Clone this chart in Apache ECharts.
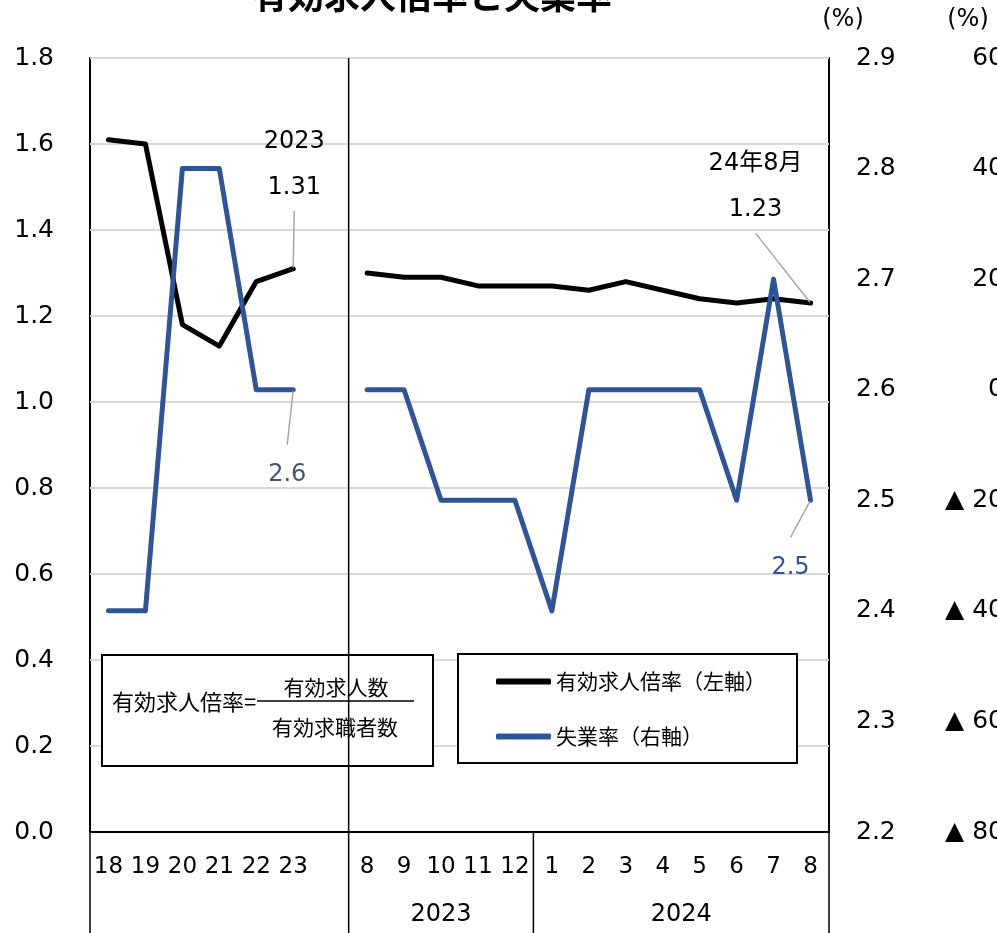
<!DOCTYPE html>
<html>
<head>
<meta charset="utf-8">
<script src="https://cdn.jsdelivr.net/npm/echarts@6/dist/echarts.min.js"></script>
<style>
  html, body { margin: 0; padding: 0; background: #fff; }
  #chart { width: 997px; height: 933px; }
</style>
</head>
<body>
<div id="chart"></div>
<script>
// ---- data ----
const years = ['18', '19', '20', '21', '22', '23'];
const months = ['8', '9', '10', '11', '12', '1', '2', '3', '4', '5', '6', '7', '8'];
const monthGroups = ['2023', '2024'];          // calendar year of the monthly block
const monthGroupStarts = [0, 5];               // index in months where each year starts
const ratioAnnual = [1.61, 1.60, 1.18, 1.13, 1.28, 1.31];
const ratioMonthly = [1.30, 1.29, 1.29, 1.27, 1.27, 1.27, 1.26, 1.28, 1.26, 1.24, 1.23, 1.24, 1.23];
const unempAnnual = [2.4, 2.4, 2.8, 2.8, 2.6, 2.6];
const unempMonthly = [2.6, 2.6, 2.5, 2.5, 2.5, 2.4, 2.6, 2.6, 2.6, 2.6, 2.5, 2.7, 2.5];
const annualNote = '2023';
const latestNote = '24年8月';
const ratioName = '有効求人倍率（左軸）';
const unempName = '失業率（右軸）';
const leftAxis = { min: 0, max: 1.8, interval: 0.2 };
const rightAxis = { min: 2.2, max: 2.9, interval: 0.1 };
const farAxis = { min: -80, max: 60, interval: 20 };

// ---- styling ----
const NUM_FONT = '"DejaVu Sans", "Noto Sans CJK JP", sans-serif';
const JP_FONT = '"Noto Sans CJK JP", "DejaVu Sans", sans-serif';
const BLACK = '#000000';
const BLUE = '#2F5597';

// one axis row: annual block, an empty spacer slot, then the monthly block
const tickLabels = years.concat([''], months);
const categories = tickLabels.map((t, i) => 'c' + i);
const gapIndex = years.length;
const lastIndex = categories.length - 1;

function withGap(annual, monthly) {
  return annual.concat([null], monthly);
}

const ratioData = withGap(ratioAnnual, ratioMonthly).map((v, i) => {
  if (i === gapIndex - 1) return { value: v, label: { show: true, formatter: annualNote + '\n{c}' } };
  if (i === lastIndex) return { value: v, label: { show: true, formatter: latestNote + '\n{c}' } };
  return v;
});
const unempData = withGap(unempAnnual, unempMonthly).map((v, i) => {
  if (i === gapIndex - 1) return { value: v, label: { show: true, color: '#44546A' } };
  if (i === lastIndex) return { value: v, label: { show: true, color: BLUE } };
  return v;
});

// label offsets (pixels) for the callouts
const ratioShift = { [gapIndex - 1]: { dx: 1, dy: -52 }, [lastIndex]: { dx: -55, dy: -64 } };
const unempShift = { [gapIndex - 1]: { dx: -6, dy: 49 }, [lastIndex]: { dx: -20, dy: 31 } };

const chart = echarts.init(document.getElementById('chart'), null, { renderer: 'canvas' });

const option = {
  animation: false,
  backgroundColor: '#ffffff',
  grid: {
    left: 90, right: 168, top: 58, bottom: 101,
    outerBoundsMode: 'none', containLabel: false,
    show: true, borderColor: BLACK, borderWidth: 2, backgroundColor: 'transparent'
  },
  legend: {
    orient: 'vertical',
    left: 458, top: 654,
    padding: [17, 31, 16, 38],
    itemGap: 34,
    itemWidth: 55, itemHeight: 6,
    icon: 'roundRect',
    backgroundColor: '#ffffff',
    borderColor: BLACK, borderWidth: 2,
    textStyle: { fontFamily: JP_FONT, fontSize: 21, color: '#000' },
    data: [ratioName, unempName]
  },
  xAxis: {
    type: 'category',
    data: categories,
    boundaryGap: true,
    axisLine: { show: true, lineStyle: { color: BLACK, width: 2 } },
    axisTick: { show: false },
    splitLine: { show: false },
    axisLabel: {
      interval: 0, margin: 24,
      fontFamily: NUM_FONT, fontSize: 23, color: '#000',
      formatter: (v, i) => tickLabels[i]
    }
  },
  yAxis: [
    {
      type: 'value', position: 'left',
      min: leftAxis.min, max: leftAxis.max, interval: leftAxis.interval,
      axisLine: { show: false }, axisTick: { show: false },
      splitLine: { show: true, lineStyle: { color: '#D9D9D9', width: 2 } },
      axisLabel: { margin: 36, fontFamily: NUM_FONT, fontSize: 25, color: '#000', formatter: v => v.toFixed(1) }
    },
    {
      type: 'value', position: 'right',
      min: rightAxis.min, max: rightAxis.max, interval: rightAxis.interval,
      axisLine: { show: false }, axisTick: { show: false }, splitLine: { show: false },
      axisLabel: { margin: 27, fontFamily: NUM_FONT, fontSize: 25, color: '#000', formatter: v => v.toFixed(1) }
    },
    {
      type: 'value', position: 'right', offset: 100,
      min: farAxis.min, max: farAxis.max, interval: farAxis.interval,
      axisLine: { show: false }, axisTick: { show: false }, splitLine: { show: false },
      axisLabel: {
        margin: 75, align: 'right',
        fontFamily: NUM_FONT, fontSize: 25, color: '#000',
        formatter: v => (v < 0 ? '▲ ' + (-v) : String(v))
      }
    }
  ],
  series: [
    {
      name: ratioName,
      type: 'line',
      yAxisIndex: 0,
      data: ratioData,
      showSymbol: true, symbol: 'circle', symbolSize: 2,
      itemStyle: { color: BLACK },
      lineStyle: { color: BLACK, width: 5, cap: 'round', join: 'round' },
      label: {
        show: false, position: 'top', distance: 5,
        fontFamily: NUM_FONT, fontSize: 24, lineHeight: 46, color: '#000', align: 'center'
      },
      labelLine: { show: true, lineStyle: { color: '#A6A6A6', width: 1.5 } },
      labelLayout: p => ratioShift[p.dataIndex] || {},
      z: 2
    },
    {
      name: unempName,
      type: 'line',
      yAxisIndex: 1,
      data: unempData,
      showSymbol: true, symbol: 'circle', symbolSize: 2,
      itemStyle: { color: BLUE },
      lineStyle: { color: BLUE, width: 5, cap: 'round', join: 'round' },
      label: {
        show: false, position: 'bottom', distance: 5,
        fontFamily: NUM_FONT, fontSize: 24, lineHeight: 60, align: 'center'
      },
      labelLine: { show: true, lineStyle: { color: '#A6A6A6', width: 1.5 } },
      labelLayout: p => unempShift[p.dataIndex] || {},
      z: 3
    }
  ]
};

chart.setOption(option);

// ---- frame extensions, year captions, notes ----
const px = i => chart.convertToPixel({ xAxisIndex: 0 }, categories[i]);
const band = px(1) - px(0);
const boundary = i => px(0) - band / 2 + i * band;
const yTop = chart.convertToPixel({ yAxisIndex: 0 }, leftAxis.max);
const yBase = chart.convertToPixel({ yAxisIndex: 0 }, leftAxis.min);
const yEnd = chart.getHeight();

const firstMonth = gapIndex + 1;
const groupEdges = monthGroupStarts.map(s => boundary(firstMonth + s)).concat([boundary(categories.length)]);

const vline = (x, y1, y2) => ({
  type: 'line', shape: { x1: x, y1: y1, x2: x, y2: y2 },
  style: { stroke: BLACK, lineWidth: 1.5 }, z: 10
});

const graphics = [
  vline(boundary(0), yBase, yEnd),
  vline(boundary(categories.length), yBase, yEnd),
  vline(boundary(firstMonth), yTop, yEnd)
];
for (let g = 1; g < monthGroups.length; g++) graphics.push(vline(groupEdges[g], yBase, yEnd));
monthGroups.forEach((name, g) => {
  graphics.push({
    type: 'text', z: 10,
    style: {
      x: (groupEdges[g] + groupEdges[g + 1]) / 2, y: 915,
      text: name, align: 'center', verticalAlign: 'middle',
      font: '24px ' + NUM_FONT, fill: '#000'
    }
  });
});

// chart title (runs off the top edge)
graphics.push({
  type: 'text', z: 10,
  style: {
    x: 432, y: -5, text: '有効求人倍率と失業率', align: 'center', verticalAlign: 'middle',
    font: 'bold 36px ' + JP_FONT, fill: '#000'
  }
});

// unit captions above the right-hand scales
['(%)', '(%)'].forEach((t, k) => {
  graphics.push({
    type: 'text', z: 10,
    style: {
      x: k === 0 ? 843 : 968, y: 20, text: t, align: 'center', verticalAlign: 'middle',
      font: '24px ' + NUM_FONT, fill: '#000'
    }
  });
});

// definition box: 有効求人倍率 = 有効求人数 / 有効求職者数
graphics.push({
  type: 'group', z: 10,
  children: [
    { type: 'rect', shape: { x: 102, y: 655, width: 331, height: 111 },
      style: { fill: '#fff', stroke: BLACK, lineWidth: 2 } },
    { type: 'text', style: { x: 112, y: 702, text: '有効求人倍率=', align: 'left', verticalAlign: 'middle',
      font: '22px ' + JP_FONT, fill: '#000' } },
    { type: 'line', shape: { x1: 257, y1: 701, x2: 414, y2: 701 }, style: { stroke: BLACK, lineWidth: 1.5 } },
    { type: 'text', style: { x: 336, y: 687, text: '有効求人数', align: 'center', verticalAlign: 'middle',
      font: '21px ' + JP_FONT, fill: '#000' } },
    { type: 'text', style: { x: 335, y: 727, text: '有効求職者数', align: 'center', verticalAlign: 'middle',
      font: '21px ' + JP_FONT, fill: '#000' } }
  ]
});

chart.setOption({ graphic: graphics });
</script>
</body>
</html>
